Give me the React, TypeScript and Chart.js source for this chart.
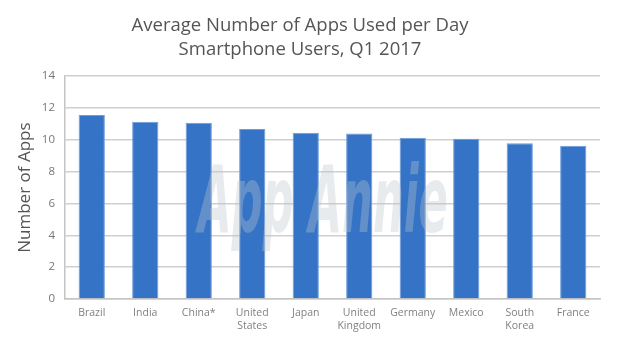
import React, { useEffect, useRef } from "react";
import { Chart, registerables } from "chart.js";

Chart.register(...registerables);

const categories: (string | string[])[] = [
  "Brazil",
  "India",
  "China*",
  ["United", "States"],
  "Japan",
  ["United", "Kingdom"],
  "Germany",
  "Mexico",
  ["South", "Korea"],
  "France",
];
const appsPerDay = [11.56, 11.14, 11.07, 10.68, 10.45, 10.4, 10.13, 10.07, 9.79, 9.63];
const titleLines = ["Average Number of Apps Used per Day", "Smartphone Users, Q1 2017"];
const yAxisTitle = "Number of Apps";
const watermark = "App Annie";

const watermarkPlugin = {
  id: "watermark",
  afterDatasetsDraw(chart: any) {
    const { ctx } = chart;
    ctx.save();
    ctx.font = "italic bold 92px 'DejaVu Sans Condensed', sans-serif";
    ctx.fillStyle = "rgba(190,198,205,0.35)";
    ctx.textAlign = "left";
    ctx.textBaseline = "alphabetic";
    ctx.fillText(watermark, 198, 232, 250);
    ctx.restore();
  },
};

export default function App() {
  const ref = useRef<HTMLCanvasElement>(null);
  useEffect(() => {
    if (!ref.current) return;
    const chart = new Chart(ref.current, {
      type: "bar",
      data: {
        labels: categories,
        datasets: [
          {
            data: appsPerDay,
            backgroundColor: "#3573c6",
            borderColor: "#6f9bd8",
            borderWidth: 1,
            barPercentage: 0.49,
            categoryPercentage: 1,
          },
        ],
      },
      options: {
        animation: false,
        responsive: false,
        maintainAspectRatio: false,
        layout: { padding: { left: 0, right: 33, top: 0, bottom: 0 } },
        plugins: {
          legend: { display: false },
          tooltip: { enabled: false },
          title: {
            display: true,
            text: titleLines,
            color: "#555",
            font: { family: "'Open Sans', sans-serif", size: 18.5, weight: "normal", lineHeight: 1.33 },
            padding: { top: 13, bottom: 14 },
          },
        },
        scales: {
          x: {
            grid: { display: false, drawTicks: false },
            border: { display: true, color: "#c4c4c4", width: 1.5 },
            ticks: {
              color: "#808080",
              font: { family: "'Open Sans', sans-serif", size: 10.5 },
              padding: 8,
              maxRotation: 0,
              autoSkip: false,
            },
            afterFit(scale: any) {
              scale.height = 51;
            },
          },
          y: {
            min: 0,
            max: 14,
            ticks: {
              stepSize: 2,
              color: "#777",
              font: { family: "'Open Sans', sans-serif", size: 11.5 },
              padding: 10,
            },
            grid: { color: "#cfcfcf", lineWidth: 1.5, drawTicks: false },
            border: { display: true, color: "#c4c4c4", width: 1.5 },
            title: {
              display: true,
              text: yAxisTitle,
              color: "#555",
              font: { family: "'Open Sans', sans-serif", size: 17 },
              padding: { top: 15, bottom: 0 },
            },
            afterFit(scale: any) {
              scale.width = 65;
            },
          },
        },
      },
      plugins: [watermarkPlugin],
    });
    return () => chart.destroy();
  }, []);
  return (
    <div style={{ position: "absolute", left: 0, top: 0, width: 633, height: 350, background: "#fff" }}>
      <canvas ref={ref} width={633} height={350} />
    </div>
  );
}
